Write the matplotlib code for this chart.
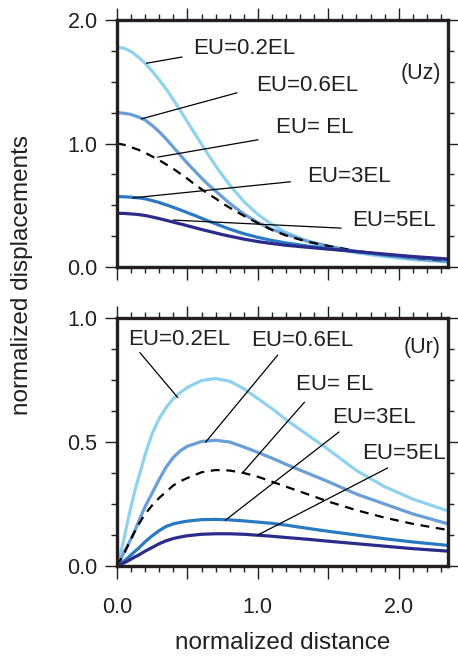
import matplotlib
matplotlib.use("Agg")
import matplotlib.pyplot as plt
from matplotlib.ticker import MultipleLocator, FuncFormatter

plt.rcParams["font.family"] = ["Liberation Sans", "DejaVu Sans"]

# distances
x_uz = [0, 0.05, 0.1, 0.15, 0.2, 0.25, 0.3, 0.35, 0.4, 0.45, 0.5, 0.55, 0.6,
        0.65, 0.7, 0.75, 0.8, 0.9, 1.0, 1.1, 1.2, 1.35, 1.5, 1.7, 1.9, 2.1,
        2.35]
x_ur = [0, 0.025, 0.05, 0.075, 0.1, 0.125, 0.15, 0.2, 0.25, 0.3, 0.35, 0.4,
        0.45, 0.5, 0.6, 0.7, 0.8, 0.9, 1.0, 1.1, 1.2, 1.35, 1.5, 1.7, 1.9,
        2.1, 2.35]

labels = ["EU=0.2EL", "EU=0.6EL", "EU= EL", "EU=3EL", "EU=5EL"]

# vertical displacement (Uz)
uz_02 = [1.78, 1.772, 1.745, 1.70, 1.65, 1.585, 1.515, 1.44, 1.355, 1.265,
         1.175, 1.085, 0.995, 0.905, 0.82, 0.74, 0.665, 0.53, 0.425, 0.345,
         0.28, 0.21, 0.16, 0.115, 0.085, 0.06, 0.04]
uz_06 = [1.25, 1.245, 1.235, 1.215, 1.19, 1.145, 1.095, 1.035, 0.97, 0.905,
         0.84, 0.78, 0.72, 0.665, 0.615, 0.565, 0.515, 0.43, 0.36, 0.305,
         0.265, 0.21, 0.17, 0.125, 0.095, 0.07, 0.045]
uz_1 = [1.0, 0.99, 0.97, 0.95, 0.925, 0.895, 0.865, 0.83, 0.795, 0.755,
        0.715, 0.67, 0.63, 0.59, 0.555, 0.515, 0.48, 0.415, 0.355, 0.30,
        0.255, 0.205, 0.17, 0.13, 0.10, 0.075, 0.05]
uz_3 = [0.57, 0.569, 0.565, 0.56, 0.552, 0.538, 0.522, 0.503, 0.483, 0.462,
        0.44, 0.418, 0.395, 0.372, 0.35, 0.328, 0.307, 0.27, 0.24, 0.215,
        0.195, 0.17, 0.15, 0.125, 0.10, 0.08, 0.058]
uz_5 = [0.435, 0.434, 0.43, 0.425, 0.417, 0.405, 0.392, 0.378, 0.363, 0.349,
        0.334, 0.319, 0.304, 0.29, 0.276, 0.262, 0.25, 0.226, 0.206, 0.19,
        0.176, 0.16, 0.145, 0.125, 0.105, 0.085, 0.065]

# radial displacement (Ur)
ur_02 = [0, 0.05, 0.11, 0.18, 0.24, 0.30, 0.35, 0.45, 0.535, 0.595, 0.64,
         0.675, 0.70, 0.72, 0.748, 0.756, 0.745, 0.715, 0.675, 0.635, 0.59,
         0.53, 0.47, 0.385, 0.32, 0.27, 0.222]
ur_06 = [0, 0.027, 0.055, 0.082, 0.11, 0.14, 0.175, 0.24, 0.295, 0.35, 0.40,
         0.438, 0.465, 0.483, 0.502, 0.507, 0.50, 0.48, 0.458, 0.435, 0.41,
         0.375, 0.34, 0.29, 0.25, 0.21, 0.17]
ur_1 = [0, 0.025, 0.05, 0.08, 0.11, 0.138, 0.165, 0.21, 0.245, 0.275, 0.30,
        0.325, 0.342, 0.355, 0.378, 0.387, 0.385, 0.375, 0.36, 0.34, 0.32,
        0.29, 0.26, 0.225, 0.195, 0.17, 0.145]
ur_3 = [0, 0.01, 0.02, 0.032, 0.045, 0.058, 0.07, 0.098, 0.122, 0.143, 0.16,
        0.17, 0.176, 0.181, 0.187, 0.188, 0.186, 0.182, 0.177, 0.172, 0.165,
        0.152, 0.14, 0.125, 0.11, 0.097, 0.083]
ur_5 = [0, 0.006, 0.013, 0.02, 0.028, 0.036, 0.043, 0.06, 0.075, 0.09, 0.102,
        0.111, 0.117, 0.122, 0.128, 0.13, 0.13, 0.128, 0.124, 0.12, 0.115,
        0.108, 0.10, 0.09, 0.08, 0.07, 0.06]

colors = ["#8fd2ef", "#6a9ed7", "black", "#2a79c3", "#2b2b8c"]
styles = ["-", "-", (0, (4, 3)), "-", "-"]
widths = [2.3, 2.3, 1.6, 2.3, 2.3]

# label placement: (text x, text y, line start on curve, line end near text)
uz_notes = [
    (0.54, 1.77, (0.21, 1.65), (0.46, 1.70)),
    (0.985, 1.47, (0.175, 1.20), (0.85, 1.41)),
    (1.13, 1.13, (0.29, 0.89), (1.0, 1.03)),
    (1.35, 0.73, (0.115, 0.56), (1.23, 0.69)),
    (1.67, 0.38, (0.40, 0.38), (1.59, 0.315)),
]
ur_notes = [
    (0.08, 0.915, (0.43, 0.68), (0.163, 0.86)),
    (0.95, 0.91, (0.63, 0.50), (1.14, 0.85)),
    (1.27, 0.73, (0.89, 0.375), (1.33, 0.66)),
    (1.53, 0.60, (0.77, 0.185), (1.575, 0.54)),
    (1.74, 0.455, (1.0, 0.125), (1.92, 0.395)),
]

TEXT = "#231f20"


def style_axes(ax, ymax, ymajor, yminor, show_x):
    ax.set_xlim(0, 2.35)
    ax.set_ylim(0, ymax)
    ax.xaxis.set_major_locator(MultipleLocator(0.5))
    ax.xaxis.set_minor_locator(MultipleLocator(0.1))
    ax.yaxis.set_major_locator(MultipleLocator(ymajor))
    ax.yaxis.set_minor_locator(MultipleLocator(yminor))
    ax.xaxis.set_major_formatter(
        FuncFormatter(lambda v, p: f"{v:.1f}" if abs(v - round(v)) < 1e-6 else ""))
    ax.yaxis.set_major_formatter(FuncFormatter(lambda v, p: f"{v:.1f}"))
    ax.tick_params(which="both", direction="out", top=True, right=True,
                   width=1.0, color=TEXT, labelcolor=TEXT, labelsize=15.5)
    ax.tick_params(which="major", length=9)
    ax.tick_params(which="minor", length=4.5)
    ax.tick_params(axis="x", pad=13, labelbottom=show_x)
    ax.tick_params(axis="y", pad=5)
    for s in ax.spines.values():
        s.set_linewidth(2.4)
        s.set_color(TEXT)


def draw_panel(ax, xs, series, notes, tag):
    ax.axhline(0, color=colors[-1], lw=1.5, zorder=1)
    for ys, c, ls, lw in zip(series, colors, styles, widths):
        ax.plot(xs, ys, color=c, ls=ls, lw=lw, zorder=2)
    for lab, (tx, ty, p0, p1) in zip(labels, notes):
        ax.plot([p0[0], p1[0]], [p0[1], p1[1]], color="black", lw=0.9, zorder=3)
        ax.text(tx, ty, lab, fontsize=16, color=TEXT, va="center", ha="left")
    ymax = ax.get_ylim()[1]
    ax.text(2.30, ymax * (0.785 if tag == "(Uz)" else 0.88), tag,
            fontsize=15.5, color=TEXT, ha="right", va="center")


def main():
    fig = plt.figure(figsize=(4.58, 6.58), dpi=100)
    ax1 = fig.add_axes([0.2555, 0.5942, 0.7227, 0.3754])
    ax2 = fig.add_axes([0.2555, 0.1398, 0.7227, 0.3769])

    style_axes(ax1, 2.0, 1.0, 0.25, False)
    style_axes(ax2, 1.0, 0.5, 0.125, True)

    draw_panel(ax1, x_uz, [uz_02, uz_06, uz_1, uz_3, uz_5], uz_notes, "(Uz)")
    draw_panel(ax2, x_ur, [ur_02, ur_06, ur_1, ur_3, ur_5], ur_notes, "(Ur)")

    fig.text(0.048, 0.582, "normalized displacements", rotation=90,
             fontsize=17.5, color=TEXT, ha="center", va="center")
    fig.text(0.618, 0.023, "normalized distance", fontsize=17.5, color=TEXT,
             ha="center", va="center")

    fig.savefig("out.png", dpi=100)


if __name__ == "__main__":
    main()
